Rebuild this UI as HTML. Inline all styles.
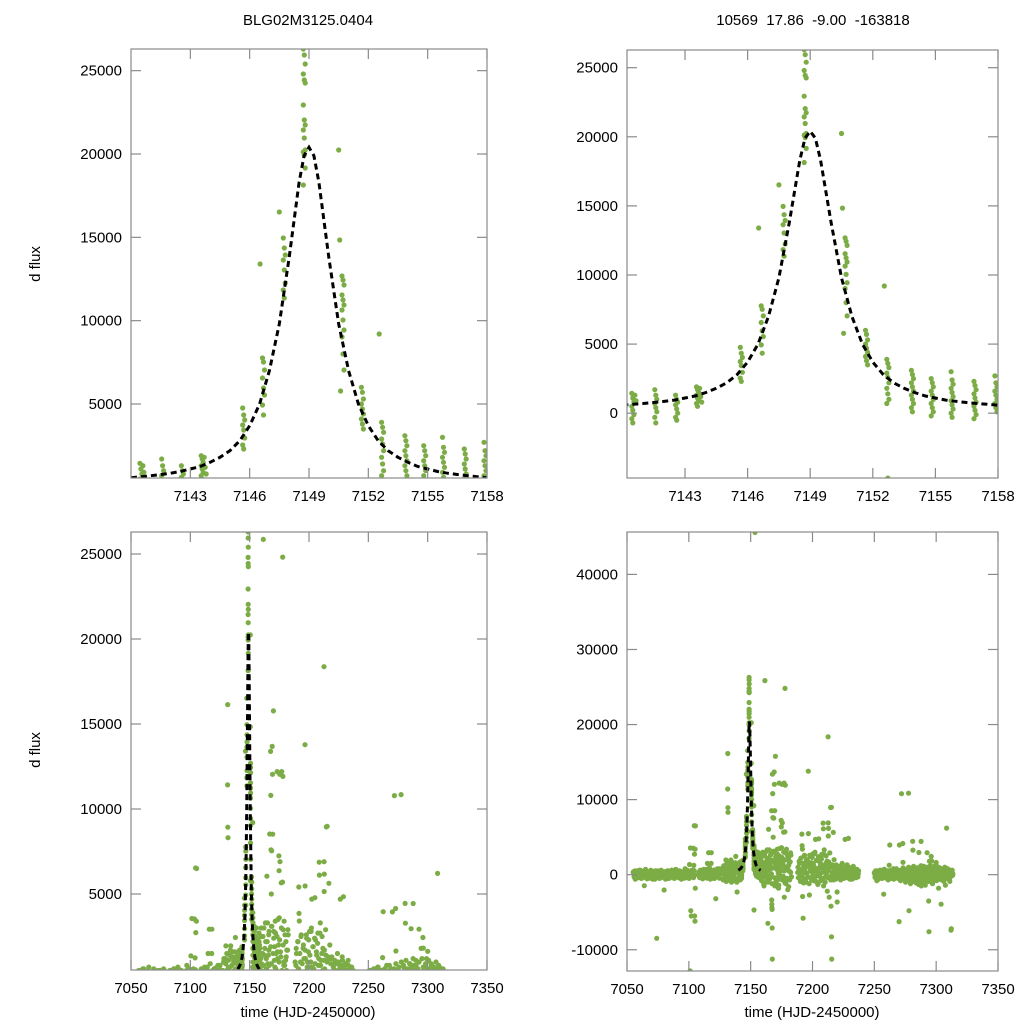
<!DOCTYPE html>
<html><head><meta charset="utf-8"><style>
html,body{margin:0;padding:0;background:#fff;overflow:hidden;width:1024px;height:1024px;}
svg{display:block;}
svg text{font-family:"Liberation Sans",sans-serif;fill:#000;}
</style></head><body>
<svg id="fig" width="1024" height="1024" viewBox="0 0 1024 1024" xmlns="http://www.w3.org/2000/svg">
<rect x="0" y="0" width="1024" height="1024" fill="#fff"/>
<text x="308" y="25" font-size="15" text-anchor="middle">BLG02M3125.0404</text>
<text x="813" y="25" font-size="15" text-anchor="middle" xml:space="preserve">10569  17.86  -9.00  -163818</text>
<text transform="translate(40,264) rotate(-90)" font-size="15" text-anchor="middle">d flux</text>
<text transform="translate(40,750) rotate(-90)" font-size="15" text-anchor="middle">d flux</text>
<text x="308" y="1017" font-size="15" text-anchor="middle">time (HJD-2450000)</text>
<text x="812" y="1017" font-size="15" text-anchor="middle">time (HJD-2450000)</text>
</svg>
<script>
// ---- model curve (fit) ----
const modelT = [7140,7140.5,7141,7141.5,7142,7142.5,7143,7143.5,7144,7144.5,7145,7145.5,7146,7146.5,7147,7147.5,7148,7148.5,7148.75,7149,7149.25,7149.5,7150,7150.5,7151,7151.5,7152,7152.5,7153,7153.5,7154,7154.5,7155,7155.5,7156,7156.5,7157,7157.5,7158];
const modelF = [580,640,700,770,850,950,1100,1250,1500,1800,2200,2800,3700,5000,7000,9800,13800,18300,19900,20400,19900,18300,13800,9800,7000,5000,3700,2800,2200,1800,1500,1250,1100,950,850,770,700,640,580];

// ---- event nights (shared by all panels) ----
const nightT = [7140.5,7140.65,7141.6,7142.6,7143.6,7143.75,7145.7,7146.58,7146.7,7147.55,7147.75,7148.76,7150.55,7150.72,7151.7,7152.6,7152.72,7153.9,7154.85,7155.8,7156.9,7157.9];
const nightF = [
 [1440,1100,800,500,200,-100,-400,-700],
 [1300,900],
 [1700,1300,1000,700,400,100,-300,-700],
 [1300,1000,800,600,300,0,-300,-500],
 [1900,1700,1500,1300,1100,900,700,500],
 [1800,1200,800],
 [4760,4340,4040,3740,3440,2960,2540,2300],
 [13400],
 [7760,7520,7040,6560,5960,5540,4940,4340],
 [16520],
 [14960,14360,13940,13640,13040,12260,11840,11360],
 [26300,25940,25400,24800,24440,24260,22940,22040,21740,21440,20960,20240,20120,19940,19160,18140],
 [20240,14840,5780],
 [12680,12440,12140,11540,11240,10940,10640,10040,9440,9020,8000,7040],
 [6000,5700,5300,5000,4700,4400,4100,3800,3500],
 [9200],
 [3900,3600,3300,2900,2600,2200,1800,1400,1000,700,-4700],
 [3100,2800,2500,2200,1900,1600,1300,1000,700,400,100],
 [2500,2200,1900,1600,1300,1000,700,400,100,-200],
 [3000,2400,2100,1800,1500,1200,900,600,300,0,-300],
 [2300,2000,1700,1400,1100,800,500,200,-100,-400],
 [2700,2200,1900,1600,1300,1000,700,400,100]
];

// ---- full-season photometry [time, flux] ----
const seasonA = [[7055,300],[7056,-200],[7056.5,500],[7057,100],[7058,-400],[7059,200],[7060,600],[7060.5,-100],[7061,0],[7062,400],[7063,-300],[7063.5,200],[7064,-1470],[7065,700],[7066,100],[7066.5,-500],[7067,300],[7068,-200],[7069,500],[7069.5,0],[7070,-300],[7071,400],[7072,100],[7072.5,-600],[7073,200],[7074,-8480],[7074.5,500],[7075,-100],[7076,300],[7077,-400],[7077.5,600],[7078,0],[7079,200],[7080,-2040],[7080.5,-300],[7081,400],[7082,-100],[7083,500],[7083.5,-500],[7084,200],[7085,0],[7086,600],[7086.5,-200],[7087,300],[7088,-400],[7089,100],[7089.5,700],[7090,-300],[7091,200],[7092,-100],[7092.5,500],[7093,0],[7094,-600],[7095,300],[7095.5,100],[7096,-200],[7097,800],[7098,-400],[7098.5,200],[7099,400],[7100,-100],[7100.5,1360],[7101,-12800],[7101.3,3560],[7101.6,-4800],[7102,-5500],[7102.5,600],[7103,-300],[7103.5,3530],[7104,1240],[7104.4,6530],[7104.7,-5500],[7105,-6200],[7105.1,3400],[7105.3,6500],[7104.6,2730],[7105.2,-1800]];
const seasonB = [[7108,300],[7108.5,-200],[7109,500],[7110,0],[7110.5,-400],[7111,200],[7112,700],[7112.5,-100],[7113,300],[7114,-300],[7114.5,500],[7115,1500],[7115.5,100],[7116,2930],[7116.5,-200],[7117,400],[7118,1500],[7118.2,2930],[7118.5,-500],[7119,200],[7120,600],[7120.5,-100],[7121,300],[7121.8,-3200],[7122,0],[7123,500],[7123.5,-300],[7124,200],[7125,800],[7127,400],[7127.5,-600],[7128,1000],[7128.5,200],[7129,-300],[7129.5,1200],[7130,1950],[7130.5,500],[7131,-800],[7131.4,11420],[7131.5,16140],[7131.6,8930],[7131.7,8310],[7132,700],[7132.5,-400],[7133,1400],[7133.5,300],[7134,1950],[7134.5,-1000],[7135,800],[7135.5,1600],[7136,-200],[7136.5,1100],[7137,500],[7137.5,-700],[7138,2440],[7138.5,1300],[7139,-2300],[7139.5,900]];
const seasonD = [[7153.5,45600],[7158.5,1800],[7159,-500],[7159.5,2500],[7160,900],[7160.5,-1200],[7161,1500],[7161.5,25860],[7162,3000],[7162.5,200],[7163,-800],[7163.5,2200],[7163.9,-6480],[7164,1200],[7164.5,6050],[7165,3300],[7165.5,-400],[7166,2600],[7166.5,800],[7166.9,8530],[7167,-3370],[7167.1,-3950],[7167.2,-4400],[7167.3,-4620],[7167.4,-7100],[7167.5,-11240],[7167.6,13390],[7167.8,10800],[7168,7600],[7168.2,5000],[7168.4,3100],[7168.6,7540],[7169,13680],[7169.2,12040],[7169.4,8520],[7169.6,-1500],[7170,15770],[7170.3,2800],[7170.6,-900],[7171,1900],[7171.5,3400],[7172,600],[7172.5,-1800],[7173,2500],[7173.1,12200],[7173.5,1200],[7174,-600],[7174.6,7250],[7174.8,6370],[7175,3600],[7175.4,12040],[7175.6,6900],[7176,1600],[7176.6,5660],[7177,12200],[7177.2,-3000],[7177.7,5700],[7177.8,24820],[7178,11920],[7178.3,2900],[7178.6,-1200],[7179,3400],[7179.5,800],[7180,-2000],[7180.5,2200],[7181,500],[7181.5,-700],[7182,1700],[7182.5,2600],[7183,-300],
[7158.8,600],[7159.3,1200],[7160.2,-300],[7161.2,400],[7162.3,1400],[7163.2,500],[7164.3,-200],[7165.3,900],[7166.2,1700],[7170.8,1100],[7171.2,-400],[7172.3,1500],[7173.8,400],[7174.3,2000],[7176.3,-200],[7178.8,1000],[7179.8,-600],[7180.8,1300],[7182.3,300]];
const seasonE = [[7188,300],[7188.5,-400],[7189,800],[7189.5,1500],[7190,-200],[7190.5,2200],[7191,600],[7191.4,5410],[7191.6,3860],[7191.8,3410],[7192,-2900],[7192.4,-5800],[7192.8,1000],[7193,-600],[7193.5,2600],[7194,400],[7194.5,-1000],[7195,1800],[7195.5,200],[7196,-300],[7196.6,13780],[7196.7,5470],[7197,1200],[7197.5,-2700],[7198,2400],[7198.5,700],[7199,-400],[7199.5,1600],[7200,300],[7200.5,2800],[7201,-800],[7201.5,1000],[7202,3000],[7202.4,4700],[7203,-200],[7203.5,1900],[7204,600],[7204.5,-1200],[7205,4780],[7205.5,2300],[7206,100],[7206.5,1400],[7207,-600],[7207.5,2700],[7208,800],[7208.6,6870],[7208.8,6110],[7209,-1500],[7209.5,3300],[7210,1100],[7210.5,-300],[7211,2500],[7211.5,500],[7212,-2200],[7212.6,18370],[7212.7,6900],[7212.8,5150],[7212.9,6170],[7213,1700],[7213.5,-3000],[7214,2900],[7214.6,8950],[7215,-4200],[7215.3,8980],[7215.4,-8270],[7215.5,-11250],[7216,1300],[7216.8,5630],[7217,-700],[7217.5,2000],[7218,400],[7218.5,-300],[7219,1200],[7219.9,-2300],[7220,-3640],[7220.5,700],[7221,-200],[7222,1000],[7222.5,300],[7223,-500],[7224,1500],[7224.5,100],[7225,-300],[7226,800],[7226.4,4700],[7227,-100],[7228,1300],[7229,4840],[7229.5,500],[7230,-400],[7231,900],[7231.5,200],[7232,-600],[7233,1100],[7234,300],[7235,-200],[7236,700],[7237,100]];
const seasonF = [[7250,200],[7250.5,-300],[7251,500],[7252,-800],[7252.5,100],[7253,300],[7254,-200],[7254.5,600],[7255,0],[7256,-400],[7256.5,400],[7257,200],[7257.6,-2600],[7258,700],[7259,-100],[7259.5,300],[7260,-500],[7261,500],[7261.5,100],[7262,1260],[7262.5,3960],[7263,-300],[7264,400],[7265,-200],[7265.5,800],[7266,100],[7267,-400],[7267.5,500],[7268,200],[7269,-100],[7269.5,600],[7270,-6250],[7270.3,3950],[7271,0],[7272,10790],[7272.5,-300],[7273,4150],[7273.2,1650],[7274,500],[7275,-200],[7275.5,300],[7276,-600],[7277,400],[7277.6,10850],[7278,-4800],[7278.5,200],[7279,-100],[7280,700],[7280.5,-400],[7281,4450],[7281.2,3280],[7282,300],[7283,-800],[7283.5,500],[7284,-200],[7285,900],[7285.5,-1000],[7286,2960],[7286.5,400],[7287,-300],[7287.8,4440],[7288,-1500],[7288.5,800],[7289,-600],[7290,1100],[7290.5,-200],[7291,500],[7292,-900],[7292.7,2930],[7293,300],[7294,-3500],[7294.2,-7600],[7294.5,1800],[7295,-400],[7296,2440],[7296.3,1820],[7297,-1200],[7298,700],[7298.5,-600],[7299,1200],[7300,1630],[7300.5,-300],[7301,600],[7302,-1800],[7302.5,300],[7303,900],[7304,-3930],[7304.5,-700],[7305,500],[7306,-200],[7307,1000],[7307.5,-1400],[7308,400],[7308.4,6210],[7309,-500],[7310,700],[7310.5,200],[7311,-900],[7312,-7400],[7312.2,-7200],[7313,600],[7313.5,100]];

// ---- half-nightly dense photometry: start times and flux per half-day ----
const bandStart = [7055.25, 7108.25, 7127.25, 7158.25, 7188.25, 7250.25];
const bandA = [400,-300,100,-600,250,-150,500,0,-400,300,-200,600,100,-500,200,-100,450,-350,0,350,-250,150,-550,400,50,-300,250,-450,600,-100,200,-600,350,0,-200,500,-400,100,300,-250,-50,450,-500,200,-150,550,-300,100,400,-400,0,250,-600,300,-100,500,-250,150,-450,350,100,-200,600,-350,0,250,-500,400,-150,200,-300,550,0,-400,300,-100,450,-550,150,-250,350,0,-450,500,-200,100,-350,600,-100,250,-500,300,0,-300,450,-150,200,-400,550,-50];
const bandB = [300,-400,600,0,-200,450,-550,200,100,-300,500,-100,700,-450,250,-250,350,900,-600,150,-100,500,-350,300,0,-500,650,-200,400,-50,800,-300,200,-450,550,100];
const bandC = [500,-700,1200,200,-400,900,-900,1500,300,-200,1100,-600,700,1700,-300,400,1300,-800,900,200,-500,1600,600,-1000,1000,300];
const bandD = [2000,-800,1200,3000,400,-1500,2500,800,-300,1800,3300,-1000,600,2200,-600,1400,2800,100,-1200,1900,900,3100,-400,1500,2400,-900,700,2700,200,-1400,1600,3500,-200,1000,2300,-700,1300,3000,500,-1100,2000,800,-500,2600,1100,-1600,1700,400,2900,-300];
const bandE = [1000,-400,1800,200,-900,2200,600,-200,1500,-1100,2500,300,900,-600,2000,1200,-300,1700,-1200,2600,500,1000,-700,2300,100,1400,-500,2800,700,-900,1900,400,-1300,2400,900,-200,1600,-800,2100,300,1200,-500,2700,800,-1000,1500,200,1800,-400,1100,600,-300,1400,-700,1000,200,-500,1200,400,-200,900,-600,1300,100,-400,800,-100,1100,500,-700,900,0,-300,1000,-500,600,200,-200,800,-400,1100,300,-100,700,-600,900,100,-300,500,-500,800,0,-200,600,-400,300,100,-300,500];
const bandF = [300,-400,100,500,-200,0,-600,400,200,-300,600,-100,-500,300,100,-200,700,-400,0,400,-300,200,-700,500,-100,300,-500,600,100,-200,400,-600,0,200,-400,800,-100,300,-500,100,500,-300,-800,600,-200,200,900,-600,0,400,-1000,700,-300,100,-700,1000,300,-500,-1200,800,-100,400,-900,1100,200,-600,600,-1100,0,900,-400,-1300,700,100,-800,1200,-200,500,-1000,300,800,-600,-1400,600,-300,1000,100,-900,400,-500,1200,-200,700,-1100,300,-700,900,0,-400,600,-800,1100,200,-300,500,-600,800,-100,300,-500,700,0,-900,400,-200,600,100,-400,800,-300,200,-600,500,0,-200,400,-100];
const bands = [bandA, bandB, bandC, bandD, bandE, bandF];

// ---- axis ticks ----
const xTicksZoom = [7143,7146,7149,7152,7155,7158];
const xTicksFull = [7050,7100,7150,7200,7250,7300,7350];
const yTicksTL = [5000,10000,15000,20000,25000];
const yTicksTR = [0,5000,10000,15000,20000,25000];
const yTicksBL = [5000,10000,15000,20000,25000];
const yTicksBR = [-10000,0,10000,20000,30000,40000];

const NS = 'http://www.w3.org/2000/svg';
const svg = document.getElementById('fig');
function mk(tag, attrs, parent){
  const e = document.createElementNS(NS, tag);
  for (const k in attrs) e.setAttribute(k, attrs[k]);
  (parent||svg).appendChild(e);
  return e;
}
const panels = [
  {id:'top-left', x0:131, x1:487, y0:49, y1:478, tmin:7140, tmax:7158, fmin:560, fmax:26300, xt:xTicksZoom, yt:yTicksTL, tick:10},
  {id:'top-right', x0:627, x1:998, y0:50, y1:478, tmin:7140.22, tmax:7158, fmin:-4690, fmax:26280, xt:xTicksZoom, yt:yTicksTR, tick:10},
  {id:'bottom-left', x0:131, x1:487, y0:532, y1:970, tmin:7050, tmax:7350, fmin:530, fmax:26294, xt:xTicksFull, yt:yTicksBL, tick:10},
  {id:'bottom-right', x0:627, x1:998, y0:532, y1:971, tmin:7050, tmax:7350, fmin:-12830, fmax:45650, xt:xTicksFull, yt:yTicksBR, tick:10}
];
panels.forEach(function(p, pi){
  const sx = t => p.x0 + (t - p.tmin) / (p.tmax - p.tmin) * (p.x1 - p.x0);
  const sy = f => p.y1 - (f - p.fmin) / (p.fmax - p.fmin) * (p.y1 - p.y0);
  const g = mk('g', {});
  
  
  const cp = mk('clipPath', {id:'clip' + pi}, g);
  mk('rect', {x:p.x0, y:p.y0, width:p.x1 - p.x0, height:p.y1 - p.y0}, cp);
  const pts = mk('g', {'clip-path':'url(#clip' + pi + ')', fill:'#7cac45'}, g);
  
  
  const r = 2.6;
  function dot(t, f){
    const c = mk('circle', {cx:sx(t).toFixed(1), cy:sy(f).toFixed(1), r:r}, pts);
    
    
  }
  [seasonA, seasonB, seasonD, seasonE, seasonF].forEach(s => s.forEach(d => dot(d[0], d[1])));
  bands.forEach(function(b, bi){
    b.forEach(function(f, i){ dot(bandStart[bi] + i * 0.5, f); });
  });
  nightT.forEach(function(t, i){
    nightF[i].forEach(function(f, j){ dot(t + ((j % 3) - 1) * 0.05, f); });
  });
  let d = '';
  modelT.forEach(function(t, i){ d += (i ? 'L' : 'M') + sx(t).toFixed(1) + ',' + sy(modelF[i]).toFixed(1); });
  const ml = mk('path', {d:d, fill:'none', stroke:'#000', 'stroke-width':3, 'stroke-dasharray':'6,4', 'clip-path':'url(#clip' + pi + ')'}, g);
  
  
  const fr = mk('rect', {x:p.x0, y:p.y0, width:p.x1 - p.x0, height:p.y1 - p.y0, fill:'none', stroke:'#8a8a8a', 'stroke-width':1.2}, g);
  
  
  p.xt.forEach(function(t){
    const x = sx(t);
    mk('line', {x1:x, x2:x, y1:p.y1, y2:p.y1 - p.tick, stroke:'#8a8a8a', 'stroke-width':1.2}, g);
    mk('line', {x1:x, x2:x, y1:p.y0, y2:p.y0 + p.tick, stroke:'#8a8a8a', 'stroke-width':1.2}, g);
    const tx = mk('text', {x:x, y:p.y1 + 23, 'font-size':15, 'text-anchor':'middle'}, g);
    tx.textContent = t;
    
    
  });
  p.yt.forEach(function(f){
    const y = sy(f);
    mk('line', {x1:p.x0, x2:p.x0 + p.tick, y1:y, y2:y, stroke:'#8a8a8a', 'stroke-width':1.2}, g);
    mk('line', {x1:p.x1, x2:p.x1 - p.tick, y1:y, y2:y, stroke:'#8a8a8a', 'stroke-width':1.2}, g);
    const ty = mk('text', {x:p.x0 - 9, y:y + 5, 'font-size':15, 'text-anchor':'end'}, g);
    ty.textContent = f;
    
    
  });
});
</script>
</body></html>
